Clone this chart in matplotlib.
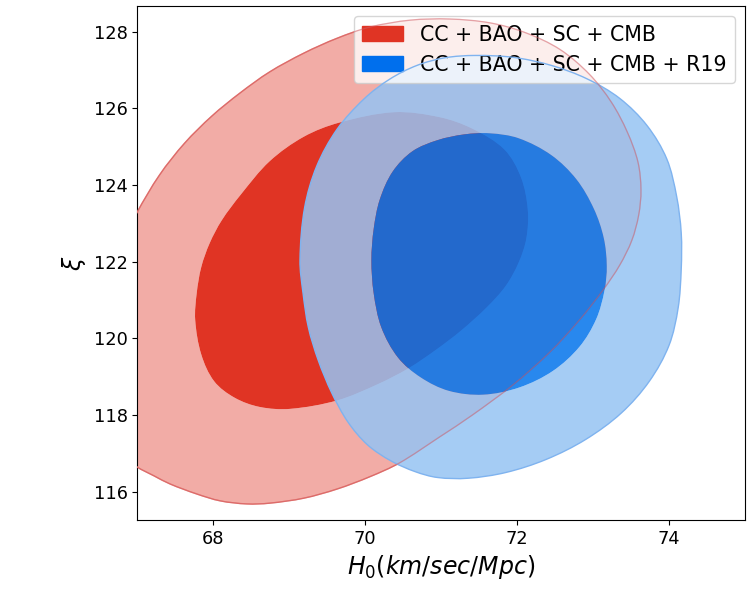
import numpy as np
import matplotlib
matplotlib.use("Agg")
import matplotlib.pyplot as plt
from matplotlib.path import Path
from matplotlib.patches import PathPatch, Patch

# 68% / 95% contour outlines, (H0, xi) vertices
red_outer_h0 = [66.84, 66.61, 66.48, 66.51, 66.66, 66.99, 67.29, 67.62, 67.98, 68.35,
                68.74, 69.19, 69.63, 70.06, 70.59, 71.11, 71.64, 72.10, 72.56, 72.95,
                73.24, 73.45, 73.59, 73.63, 73.60, 73.51, 73.35, 73.13, 72.82, 72.43,
                71.94, 71.41, 70.98, 70.45, 70.06, 69.63, 69.19, 68.74, 68.44, 68.09,
                67.78, 67.43, 67.22, 66.99]
red_outer_xi = [116.90, 117.61, 118.91, 120.48, 121.97, 123.27, 124.26, 125.09, 125.80, 126.40,
                126.95, 127.44, 127.83, 128.12, 128.30, 128.33, 128.23, 127.98, 127.54, 126.89,
                126.16, 125.38, 124.60, 123.87, 123.22, 122.56, 121.91, 121.26, 120.48, 119.64,
                118.78, 118.00, 117.43, 116.75, 116.39, 116.07, 115.83, 115.70, 115.68, 115.76,
                115.94, 116.20, 116.41, 116.65]

red_inner_h0 = [67.76, 67.78, 67.84, 67.95, 68.11, 68.36, 68.74, 69.19, 69.66, 70.38,
                70.98, 71.41, 71.83, 72.05, 72.14, 72.12, 72.02, 71.85, 71.60, 71.26,
                70.93, 70.57, 70.16, 69.63, 69.01, 68.61, 68.28, 68.01, 67.84]
red_inner_xi = [120.48, 121.18, 121.86, 122.48, 123.08, 123.75, 124.62, 125.26, 125.63, 125.90,
                125.77, 125.47, 124.93, 124.20, 123.35, 122.60, 121.98, 121.37, 120.81, 120.20,
                119.70, 119.22, 118.80, 118.38, 118.16, 118.21, 118.45, 118.88, 119.58]

blue_outer_h0 = [69.14, 69.20, 69.36, 69.63, 69.98, 70.32, 70.68, 71.05, 71.45, 71.95,
                 72.45, 72.92, 73.35, 73.71, 73.97, 74.10, 74.16, 74.16, 74.12, 74.00,
                 73.74, 73.37, 72.90, 72.38, 71.85, 71.35, 70.95, 70.66, 70.34, 70.03,
                 69.77, 69.56, 69.38, 69.25, 69.18]
blue_outer_xi = [122.04, 123.40, 124.49, 125.46, 126.24, 126.76, 127.12, 127.32, 127.38, 127.33,
                 127.12, 126.77, 126.26, 125.55, 124.68, 123.70, 122.75, 121.80, 120.80, 119.82,
                 118.88, 118.05, 117.36, 116.84, 116.50, 116.35, 116.37, 116.52, 116.80, 117.22,
                 117.82, 118.57, 119.43, 120.29, 121.18]

blue_inner_h0 = [70.08, 70.11, 70.19, 70.36, 70.62, 70.95, 71.30, 71.64, 72.02, 72.45,
                 72.78, 73.01, 73.14, 73.18, 73.15, 73.04, 72.82, 72.47, 72.03, 71.55,
                 71.10, 70.73, 70.43, 70.21, 70.11]
blue_inner_xi = [122.04, 122.85, 123.62, 124.35, 124.88, 125.17, 125.32, 125.35, 125.22, 124.78,
                 124.15, 123.38, 122.62, 121.89, 121.25, 120.50, 119.78, 119.15, 118.72, 118.53,
                 118.63, 118.98, 119.50, 120.29, 121.18]

labels = ["CC + BAO + SC + CMB", "CC + BAO + SC + CMB + R19"]

# axis scale in pixels per unit, keeps the curve tangents isotropic on screen
SX, SY = 76.0, 38.35


def loop(xs, ys, ccw=True):
    """Closed smooth Bezier path through the vertices."""
    p = np.column_stack([xs, ys]) * [SX, SY]
    area = np.sum(p[:, 0] * np.roll(p[:, 1], -1) - np.roll(p[:, 0], -1) * p[:, 1])
    if (area > 0) != ccw:
        p = p[::-1]
    n = len(p)
    nxt, prv = np.roll(p, -1, axis=0), np.roll(p, 1, axis=0)
    tang = nxt - prv
    tang /= np.linalg.norm(tang, axis=1)[:, None]
    verts, codes = [p[0]], [Path.MOVETO]
    for i in range(n):
        j = (i + 1) % n
        d = np.linalg.norm(p[j] - p[i]) / 3
        verts += [p[i] + tang[i] * d, p[j] - tang[j] * d, p[j]]
        codes += [Path.CURVE4] * 3
    verts.append(p[0])
    codes.append(Path.CLOSEPOLY)
    return np.array(verts) / [SX, SY], codes


def band(outer, inner=None):
    v, c = loop(*outer, ccw=True)
    if inner is not None:
        v2, c2 = loop(*inner, ccw=False)
        v = np.vstack([v, v2])
        c = c + c2
    return Path(v, c)


fig = plt.figure(figsize=(7.48, 5.89), dpi=100)
ax = fig.add_axes([0.1838, 0.1171, 0.8122, 0.8727])

red_o = (red_outer_h0, red_outer_xi)
red_i = (red_inner_h0, red_inner_xi)
blue_o = (blue_outer_h0, blue_outer_xi)
blue_i = (blue_inner_h0, blue_inner_xi)

# first data set
ax.add_patch(PathPatch(band(red_o, red_i), fc="#f2aca6", ec="none", zorder=1))
ax.add_patch(PathPatch(band(red_i), fc="#e03424", ec="none", zorder=2))
ax.add_patch(PathPatch(band(red_o), fc="none", ec="#e8776c", lw=1.0, zorder=3))

# second data set drawn over it
ax.add_patch(PathPatch(band(blue_o, blue_i), fc="#96c3f3", ec="none", alpha=0.85, zorder=4))
ax.add_patch(PathPatch(band(blue_i), fc="#0273eb", ec="none", alpha=0.85, zorder=5))
ax.add_patch(PathPatch(band(blue_o), fc="none", ec="#7fb3ef", lw=1.0, zorder=6))
ax.add_patch(PathPatch(band(red_o), fc="none", ec="#d0606a", lw=0.9, alpha=0.5, zorder=7))

ax.set_xlim(67, 75)
ax.set_ylim(115.26, 128.67)
ax.set_xticks([68, 70, 72, 74])
ax.set_yticks([116, 118, 120, 122, 124, 126, 128])
ax.tick_params(labelsize=12.8)
ax.set_xlabel(r"$H_0(km/sec/Mpc)$", fontsize=17)
ax.set_ylabel(r"$\xi$", fontsize=17)

handles = [Patch(fc="#e03424", ec="#e03424"), Patch(fc="#006fed", ec="#006fed")]
ax.legend(handles, labels, loc="upper right", fontsize=14.8)

fig.savefig("out.png", dpi=100)
